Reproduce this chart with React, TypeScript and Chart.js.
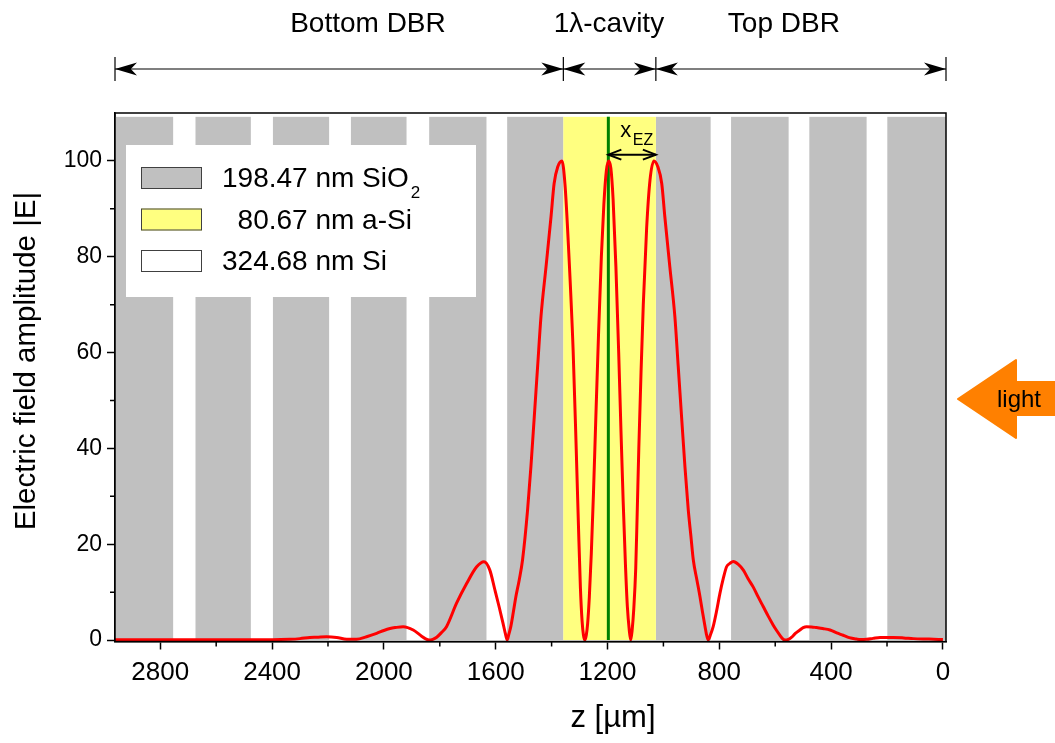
import React, { useEffect, useRef } from 'react';
import { Chart, registerables } from 'chart.js';

Chart.register(...registerables);

// ---- data ----
const zPos = [
  0, 50, 106, 140, 178, 225, 250, 273, 295, 309, 335, 357, 380, 404, 430, 452, 470, 488, 500, 512,
  528, 541, 553, 565, 574, 583, 595, 607, 625, 643, 661, 679, 697, 714, 732, 750, 762, 774, 786, 798,
  810, 822, 831, 840, 846, 851, 860, 869, 880, 893, 902, 911, 923, 935, 947, 959, 977, 995, 1006, 1020,
  1034, 1048, 1060, 1072, 1080, 1088, 1094, 1099, 1106, 1112, 1117, 1122, 1129, 1136, 1144, 1152, 1160, 1170, 1180, 1188,
  1196, 1204, 1213, 1222, 1232, 1242, 1250, 1258, 1265, 1271, 1276, 1281, 1286, 1291, 1297, 1304, 1312, 1323, 1339, 1352,
  1363, 1378, 1391, 1402, 1420, 1438, 1450, 1462, 1474, 1486, 1504, 1516, 1528, 1537, 1546, 1553, 1559, 1566, 1575, 1588,
  1603, 1621, 1642, 1668, 1704, 1740, 1776, 1795, 1811, 1825, 1838, 1852, 1865, 1895, 1931, 1960, 1978, 2000, 2026, 2062,
  2098, 2133, 2169, 2205, 2240, 2265, 2300, 2336, 2400, 2600, 2800, 2962,
];
const eAmp = [
  0.1, 0.2, 0.3, 0.45, 0.55, 0.55, 0.35, 0.15, 0.1, 0.2, 0.5, 1.0, 1.5, 2.1, 2.4, 2.6, 2.75, 2.8, 2.6, 2.1,
  1.4, 0.6, 0.15, 0, 0.3, 1.0, 2.0, 3.1, 5.0, 7.0, 9.0, 11.1, 12.8, 14.6, 15.8, 16.4, 16.0, 15.3, 12.8, 9.7,
  6.0, 2.8, 1.2, 0, 1.2, 2.8, 5.8, 9.0, 12.5, 16.7, 21.9, 27.1, 36.2, 46.6, 57.1, 67.5, 77.9, 88.4, 95.3, 98.8,
  100, 96, 86, 70, 56, 40, 26, 15, 6.5, 2, 0, 2, 7, 16, 29, 44, 60, 78, 92, 98.5,
  100, 98, 91, 80, 64, 46, 31, 18, 9, 3.5, 1, 0, 1, 4, 11, 24, 40, 60.5, 81.4, 95,
  100, 98.8, 95.3, 88.4, 77.9, 67.5, 57.1, 46.6, 36.2, 27.1, 16.7, 12.5, 9.0, 5.8, 2.8, 1.2, 0, 1.5, 3.8, 7.0,
  10.5, 14.6, 16.35, 15.3, 11.8, 7.7, 2.8, 1.5, 0.6, 0.15, 0, 0.3, 0.8, 2.1, 2.8, 2.6, 2.4, 2.0, 1.4, 0.7,
  0.15, 0.15, 0.55, 0.7, 0.6, 0.55, 0.3, 0.15, 0.05, 0.05, 0.05, 0.05,
];

const xTicks = [0, 400, 800, 1200, 1600, 2000, 2400, 2800];
const xMinorTicks = [200, 600, 1000, 1400, 1800, 2200, 2600];
const yTicks = [0, 20, 40, 60, 80, 100];
const yMinorTicks = [10, 30, 50, 70, 90];

// layer stack (z ranges)
const sio2Layers = [
  [-20, 199], [273, 478], [552, 758], [831, 1027],
  [1358, 1559], [1633, 1838], [1919, 2118], [2196, 2397], [2476, 2674], [2754, 2980],
];
const aSiLayers = [[1027, 1358]];
const layerTop = 109.2;
const cavityCenterZ = 1197;
const cavityEdgeZ = 1027;
const xezLevel = 101.3;

const sectionBounds = [2962, 1358, 1027, -11];
const sectionLabels = ['Bottom DBR', '1λ-cavity', 'Top DBR'];
const sectionLabelZ = [2057, 1195, 569];

const legendLabels = ['198.47 nm SiO', '  80.67 nm a-Si', '324.68 nm Si'];
const legendSubs = ['2', '', ''];
const legendColors = ['#C0C0C0', '#FFFF80', '#FFFFFF'];

const FONT = '"Liberation Sans", Arial, Helvetica, sans-serif';

function filledHead(ctx: CanvasRenderingContext2D, tipX: number, y: number, dir: number) {
  const L = 22, h = 6.5;
  ctx.beginPath();
  ctx.moveTo(tipX, y);
  ctx.lineTo(tipX - dir * L, y - h);
  ctx.lineTo(tipX - dir * L * 0.72, y);
  ctx.lineTo(tipX - dir * L, y + h);
  ctx.closePath();
  ctx.fill();
}

function openHead(ctx: CanvasRenderingContext2D, tipX: number, y: number, dir: number) {
  ctx.beginPath();
  ctx.moveTo(tipX - dir * 13, y - 5);
  ctx.lineTo(tipX, y);
  ctx.lineTo(tipX - dir * 13, y + 5);
  ctx.stroke();
}

const overlayPlugin = {
  id: 'overlay',
  beforeDatasetsDraw(chart: any) {
    const { ctx, chartArea, scales } = chart;
    const x = scales.x, y = scales.y;
    ctx.save();
    ctx.beginPath();
    ctx.rect(chartArea.left, chartArea.top, chartArea.right - chartArea.left, chartArea.bottom - chartArea.top);
    ctx.clip();
    const yTop = y.getPixelForValue(layerTop);
    const yBot = y.getPixelForValue(0);
    const fillLayers = (layers: number[][], color: string) => {
      ctx.fillStyle = color;
      layers.forEach(([a, b]) => {
        const x1 = x.getPixelForValue(a), x2 = x.getPixelForValue(b);
        ctx.fillRect(Math.min(x1, x2), yTop, Math.abs(x2 - x1), yBot - yTop);
      });
    };
    fillLayers(sio2Layers, '#C0C0C0');
    fillLayers(aSiLayers, '#FFFF80');
    ctx.restore();
  },
  afterDatasetsDraw(chart: any) {
    const { ctx, scales } = chart;
    const x = scales.x, y = scales.y;
    ctx.save();
    // legend box
    ctx.fillStyle = '#FFFFFF';
    ctx.fillRect(126, 145, 350, 152);
    const rows = [178, 219.5, 261];
    legendLabels.forEach((lab, i) => {
      const cy = rows[i];
      ctx.fillStyle = legendColors[i];
      ctx.fillRect(141, cy - 11, 61, 22);
      ctx.strokeStyle = '#404040';
      ctx.lineWidth = 1;
      ctx.strokeRect(141.5, cy - 10.5, 60, 21);
      ctx.fillStyle = '#000';
      ctx.font = `28px ${FONT}`;
      ctx.textBaseline = 'alphabetic';
      ctx.textAlign = 'left';
      ctx.fillText(lab, 222, cy + 9);
      if (legendSubs[i]) {
        const w = ctx.measureText(lab).width;
        ctx.font = `17px ${FONT}`;
        ctx.fillText(legendSubs[i], 222 + w + 2, cy + 20);
      }
    });
    // x_EZ annotation
    const xc = x.getPixelForValue(cavityCenterZ);
    const xe = x.getPixelForValue(cavityEdgeZ);
    const ya = y.getPixelForValue(xezLevel);
    ctx.strokeStyle = '#000';
    ctx.lineWidth = 2;
    ctx.beginPath();
    ctx.moveTo(xc, ya);
    ctx.lineTo(xe, ya);
    ctx.stroke();
    openHead(ctx, xc, ya, -1);
    openHead(ctx, xe, ya, 1);
    ctx.fillStyle = '#000';
    ctx.font = `22px ${FONT}`;
    ctx.textAlign = 'left';
    ctx.fillText('x', xc + 12, ya - 18);
    ctx.font = `16px ${FONT}`;
    ctx.fillText('EZ', xc + 24.5, ya - 10);
    ctx.restore();
  },
  afterDraw(chart: any) {
    const { ctx, chartArea, scales } = chart;
    const x = scales.x, y = scales.y;
    ctx.save();
    // frame
    ctx.strokeStyle = '#000';
    ctx.lineWidth = 1.5;
    ctx.strokeRect(chartArea.left, chartArea.top, chartArea.right - chartArea.left, chartArea.bottom - chartArea.top);
    // minor ticks
    ctx.lineWidth = 1.5;
    ctx.beginPath();
    yMinorTicks.forEach((v) => {
      const py = y.getPixelForValue(v);
      ctx.moveTo(chartArea.left - 5, py);
      ctx.lineTo(chartArea.left, py);
    });
    xMinorTicks.forEach((v) => {
      const px = x.getPixelForValue(v);
      ctx.moveTo(px, chartArea.bottom);
      ctx.lineTo(px, chartArea.bottom + 5);
    });
    ctx.stroke();

    // section arrows above plot
    const ay = 69;
    const bx = sectionBounds.map((v) => x.getPixelForValue(v));
    ctx.fillStyle = '#000';
    ctx.lineWidth = 1.2;
    ctx.beginPath();
    bx.forEach((px) => {
      ctx.moveTo(px, 57);
      ctx.lineTo(px, 81);
    });
    ctx.moveTo(bx[0], ay);
    ctx.lineTo(bx[bx.length - 1], ay);
    ctx.stroke();
    for (let i = 0; i < bx.length - 1; i++) {
      filledHead(ctx, bx[i], ay, -1);
      filledHead(ctx, bx[i + 1], ay, 1);
    }
    ctx.font = `28px ${FONT}`;
    ctx.textAlign = 'center';
    ctx.textBaseline = 'middle';
    sectionLabels.forEach((lab, i) => {
      ctx.fillText(lab, x.getPixelForValue(sectionLabelZ[i]), 24);
    });

    // axis titles
    ctx.font = `31px ${FONT}`;
    ctx.textAlign = 'center';
    ctx.textBaseline = 'middle';
    ctx.fillText('z [µm]', 613, 718);
    ctx.save();
    ctx.font = `29.5px ${FONT}`;
    ctx.translate(27, 361);
    ctx.rotate(-Math.PI / 2);
    ctx.fillText('Electric field amplitude |E|', 0, 0);
    ctx.restore();

    // light arrow
    ctx.fillStyle = '#FF8000';
    ctx.strokeStyle = '#FF8000';
    ctx.lineJoin = 'round';
    ctx.lineWidth = 2;
    ctx.beginPath();
    ctx.moveTo(958, 399);
    ctx.lineTo(1016, 360);
    ctx.lineTo(1016, 382);
    ctx.lineTo(1056, 382);
    ctx.lineTo(1056, 415);
    ctx.lineTo(1016, 415);
    ctx.lineTo(1016, 438);
    ctx.closePath();
    ctx.fill();
    ctx.stroke();
    ctx.fillStyle = '#000';
    ctx.font = `24px ${FONT}`;
    ctx.textAlign = 'center';
    ctx.textBaseline = 'alphabetic';
    ctx.fillText('light', 1019, 407);
    ctx.restore();
  },
};

export default function App() {
  const canvasRef = useRef<HTMLCanvasElement | null>(null);

  useEffect(() => {
    const canvas = canvasRef.current;
    if (!canvas) return;
    const chart = new Chart(canvas, {
      type: 'line',
      data: {
        datasets: [
          {
            label: '|E|',
            data: zPos.map((z, i) => ({ x: z, y: eAmp[i] })),
            borderColor: '#FF0000',
            borderWidth: 3,
            pointRadius: 0,
            fill: false,
            cubicInterpolationMode: 'monotone',
          },
          {
            label: 'cavity center',
            data: [
              { x: cavityCenterZ, y: 0 },
              { x: cavityCenterZ, y: layerTop },
            ],
            borderColor: '#008000',
            borderWidth: 3,
            pointRadius: 0,
            fill: false,
          },
        ],
      },
      options: {
        animation: false,
        responsive: false,
        devicePixelRatio: 1,
        parsing: false,
        normalized: true,
        layout: { padding: { top: 113, right: 109, left: 0, bottom: 0 } },
        plugins: {
          legend: { display: false },
          tooltip: { enabled: false },
          title: { display: false },
        },
        scales: {
          x: {
            type: 'linear',
            reverse: true,
            min: -11,
            max: 2962,
            afterBuildTicks: (s: any) => {
              s.ticks = xTicks.map((v) => ({ value: v }));
            },
            afterFit: (s: any) => {
              s.height = 101.5;
            },
            ticks: {
              callback: (v: any) => String(v),
              color: '#000',
              font: { family: FONT, size: 26 },
              padding: 8,
              maxRotation: 0,
              autoSkip: false,
            },
            grid: {
              drawOnChartArea: false,
              drawTicks: true,
              tickLength: 8,
              tickWidth: 1.5,
              tickColor: '#000',
            },
            border: { display: true, color: '#000', width: 1.5 },
          },
          y: {
            type: 'linear',
            min: -0.3,
            max: 110,
            afterBuildTicks: (s: any) => {
              s.ticks = yTicks.map((v) => ({ value: v }));
            },
            afterFit: (s: any) => {
              s.width = 115;
            },
            ticks: {
              callback: (v: any) => String(v),
              color: '#000',
              font: { family: FONT, size: 23 },
              padding: 5,
              autoSkip: false,
            },
            grid: {
              drawOnChartArea: false,
              drawTicks: true,
              tickLength: 8,
              tickWidth: 1.5,
              tickColor: '#000',
            },
            border: { display: true, color: '#000', width: 1.5 },
          },
        },
      },
      plugins: [overlayPlugin],
    } as any);
    return () => chart.destroy();
  }, []);

  return (
    <div style={{ position: 'absolute', left: 0, top: 0, width: 1055, height: 743, background: '#fff' }}>
      <canvas ref={canvasRef} width={1055} height={743} style={{ width: 1055, height: 743, display: 'block' }} />
    </div>
  );
}
